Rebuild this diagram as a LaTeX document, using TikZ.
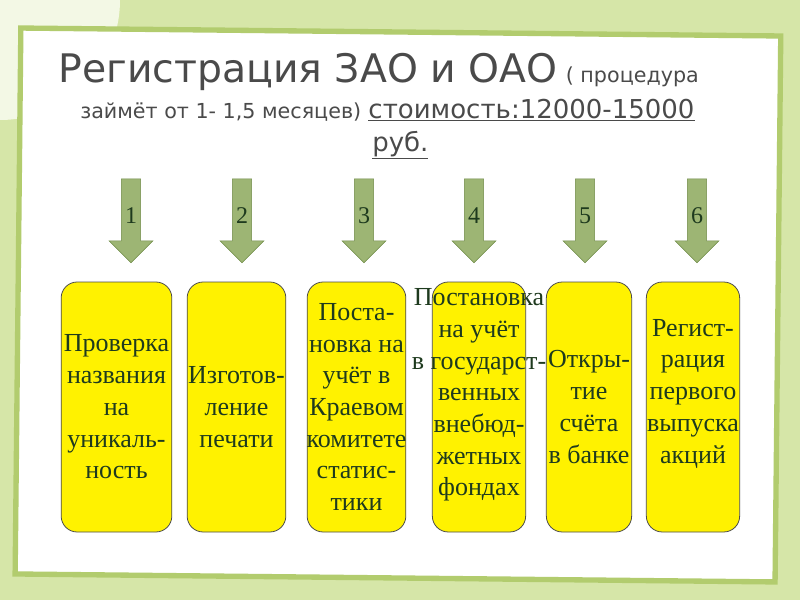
\documentclass[tikz,border=0pt]{standalone}
\usepackage{fontspec}
\setmainfont{Liberation Serif}
\newfontfamily\titlefont{DejaVu Sans}
\usetikzlibrary{positioning,shapes.arrows}
\definecolor{bggreen}{HTML}{D6E6A8}
\definecolor{framegreen}{HTML}{B2CC6E}
\definecolor{arrowfill}{HTML}{9DB574}
\definecolor{arrowline}{HTML}{6E8A46}
\definecolor{textdark}{HTML}{1E3A1E}
\definecolor{titlegray}{HTML}{4A4A4A}
\tikzset{
    x=0.75pt,
    y=-0.75pt,
    stepbox/.style = {
        draw=black!70,
        fill=yellow,
        rounded corners=12pt,
        line width=0.6pt,
        minimum height=187.5pt,
        minimum width=#1
    },
    steptext/.style = {
        align=center,
        inner sep=0pt,
        text=textdark,
        font=\fontsize{19.5}{23.8}\selectfont
    },
    downarrow/.style = {
        draw=arrowline,
        fill=arrowfill,
        single arrow,
        shape border rotate=270,
        minimum width=33pt,
        minimum height=63pt,
        text width=10pt,
        single arrow head extend=8pt,
        single arrow tip angle=90,
        inner sep=1pt,
        align=center,
        font=\fontsize{18}{20}\selectfont,
        text=textdark
    },
}
\begin{document}
\begin{tikzpicture}
    \useasboundingbox (0,0) rectangle (800,600);
    % background and panel
    \fill[bggreen] (0,0) rectangle (800,600);
    \fill[white!70!bggreen] (0,0) circle (120);
    \draw[framegreen, line width=4pt, fill=white, rotate around={-0.6:(400,300)}]
        (18,32) rectangle (778,578);
    % title
    \node[anchor=west, text=titlegray, font=\titlefont\fontsize{29.5}{32}\selectfont] (title) at (54,72) {Регистрация ЗАО и ОАО};
    \node[anchor=base west, text=titlegray, font=\titlefont\fontsize{15.5}{18}\selectfont, inner sep=0pt] (dur) at (title.base east) {\,( процедура};
    \node[anchor=west, text=titlegray, font=\titlefont\fontsize{15.5}{18}\selectfont, inner sep=0pt] (dur2) at (80,112) {займёт от 1- 1,5 месяцев)};
    \node[anchor=base west, text=titlegray, font=\titlefont\fontsize{19.5}{22}\selectfont, inner sep=0pt] (cost) at ([xshift=5pt]dur2.base east) {\underline{стоимость:12000-15000}};
    \node[anchor=west, text=titlegray, font=\titlefont\fontsize{19.5}{22}\selectfont, inner sep=0pt] (rub) at (372,145) {\underline{руб.}};
    % arrows
    \foreach \i/\x in {1/131, 2/242, 3/364, 4/474, 5/585, 6/697}
        \node[downarrow] (arr\i) at (\x,216) {\i\\[14pt]};
    % steps
    \node[stepbox=83pt] (check) at (116.5,407) {};
    \node[steptext] at (check) {Проверка\\названия\\на\\уникаль-\\ность};
    \node[stepbox=74pt] (seal) at (236.5,407) {};
    \node[steptext] at (seal) {Изготов-\\ление\\печати};
    \node[stepbox=74pt] (stat) at (356.5,407) {};
    \node[steptext] at (stat) {Поста-\\новка на\\учёт в\\Краевом\\комитете\\статис-\\тики};
    \node[stepbox=70pt] (funds) at (479,407) {};
    \node[steptext] at ([yshift=9pt]funds) {Постановка\\на учёт\\в государст-\\венных\\внебюд-\\жетных\\фондах};
    \node[stepbox=64pt] (bank) at (589,407) {};
    \node[steptext] at (bank) {Откры-\\тие\\счёта\\в банке};
    \node[stepbox=70pt] (issue) at (693,407) {};
    \node[steptext] at ([yshift=10pt]issue) {Регист-\\рация\\первого\\выпуска\\акций};
\end{tikzpicture}
\end{document}
